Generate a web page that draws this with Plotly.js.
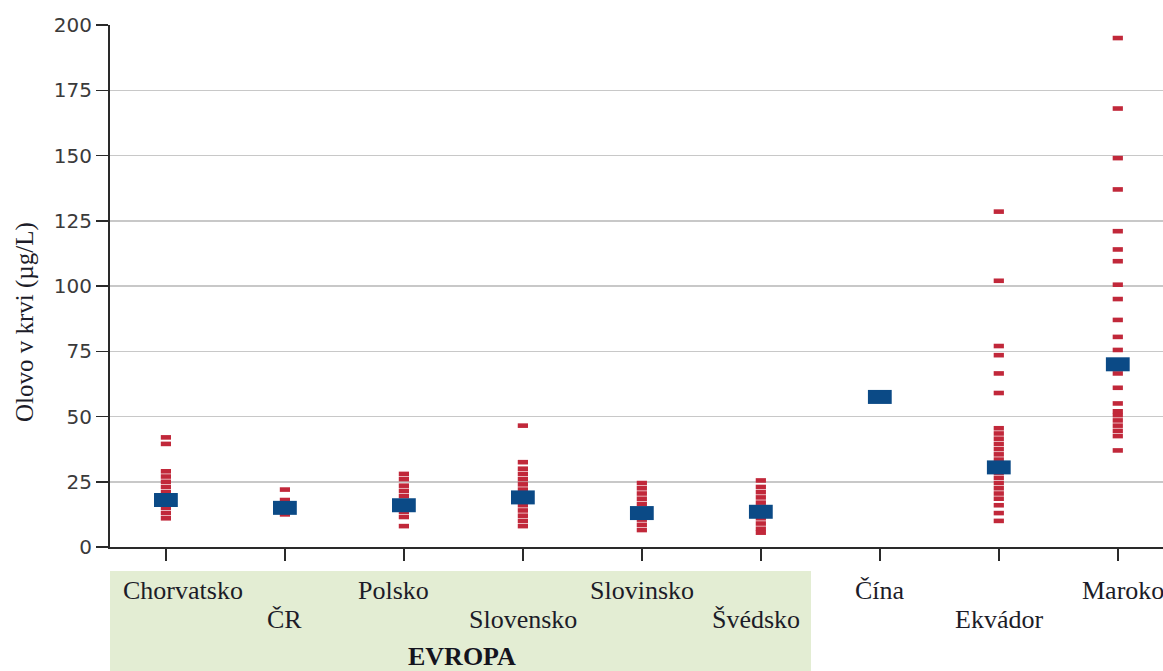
<!DOCTYPE html>
<html>
<head>
<meta charset="utf-8">
<script src="https://cdn.plot.ly/plotly-3.0.1.min.js"></script>
<style>html,body{margin:0;padding:0;background:#fff;}#chart{width:1163px;height:671px;}</style>
</head>
<body>
<div id="chart"></div>
<script>
// ---- data ----
const categories = ['Chorvatsko', 'ČR', 'Polsko', 'Slovensko', 'Slovinsko', 'Švédsko', 'Čína', 'Ekvádor', 'Maroko'];
const groupLabel = 'EVROPA';
const yTitle = 'Olovo v krvi (µg/L)';
const yTickVals = [0, 25, 50, 75, 100, 125, 150, 175, 200];

const chorvatsko = [42, 39.5, 29, 27, 25, 23, 21, 19, 17, 15, 13, 11];
const cr = [22, 18, 16, 14, 12.5];
const polsko = [28, 26, 23.5, 21.5, 19.5, 17.5, 15.5, 13.5, 11.5, 8];
const slovensko = [46.5, 32.5, 30, 28, 26, 24, 22, 20, 18, 16, 14, 12, 10, 8];
const slovinsko = [24.5, 22.5, 20.5, 18.5, 16.5, 14.5, 12.5, 10.5, 8.5, 6.5];
const svedsko = [25.5, 23, 21, 19, 17, 15, 13, 11, 9, 7, 5.5];
const cina = [];
const ekvador = [128.5, 102, 77, 73.5, 66.5, 59, 45.5, 43.5, 41.5, 39.5, 37.5, 35.5, 33.5, 31.5, 28.5, 26.5, 24.5, 22.5, 20.5, 18.5, 16, 13, 10];
const maroko = [195, 168, 149, 137, 121, 114, 109.5, 100.5, 95, 87, 80.5, 75.5, 66.5, 61, 55, 52, 50.5, 48.5, 46.5, 44.5, 42.5, 37];

const medians = [18, 15, 16, 19, 13, 13.5, 57.5, 30.5, 70];

// ---- build ----
const individual = [chorvatsko, cr, polsko, slovensko, slovinsko, svedsko, cina, ekvador, maroko];
const redX = [], redY = [];
individual.forEach((arr, i) => arr.forEach(v => { redX.push(categories[i]); redY.push(v); }));

const RED = '#c1283a';
const BLUE = '#0b4a86';

const traces = [
  {
    type: 'scatter', mode: 'markers', x: redX, y: redY, hoverinfo: 'x+y',
    marker: { symbol: 'line-ew', size: 7.3, color: RED, line: { width: 4.6, color: RED } },
    cliponaxis: false, showlegend: false
  },
  {
    type: 'scatter', mode: 'markers', x: categories, y: medians, hoverinfo: 'x+y',
    marker: { symbol: 'line-ew', size: 17, color: BLUE, line: { width: 14, color: BLUE } },
    cliponaxis: false, showlegend: false
  }
];

const serif = '"Liberation Serif", "Times New Roman", serif';
const xShift = [17, 0, -10, 0, 0, -5, 0, 0, 5];
const annotations = categories.map((c, i) => ({
  xref: 'x', yref: 'paper', x: i, y: 0, xanchor: 'center', yanchor: 'middle',
  yshift: (i % 2 === 0) ? -43 : -72, xshift: xShift[i],
  text: c, showarrow: false, font: { family: serif, size: 26, color: '#1c1c28' }
}));
annotations.push({
  xref: 'x', yref: 'paper', x: 2.49, y: 0, xanchor: 'center', yanchor: 'middle', yshift: -109,
  text: '<b>' + groupLabel + '</b>', showarrow: false, font: { family: serif, size: 26, color: '#14141e' }
});
annotations.push({
  xref: 'paper', yref: 'paper', x: -0.0807, y: 0.431, xanchor: 'center', yanchor: 'middle',
  textangle: -90, text: yTitle, showarrow: false, font: { family: serif, size: 25, color: '#1c1c28' }
});

const layout = {
  width: 1163, height: 671,
  margin: { l: 110, r: 0, t: 25, b: 124, pad: 0 },
  paper_bgcolor: '#ffffff', plot_bgcolor: 'rgba(0,0,0,0)',
  showlegend: false,
  xaxis: {
    type: 'category', categoryorder: 'array', categoryarray: categories,
    range: [-0.47, 8.38], showgrid: false, zeroline: false,
    showline: true, linecolor: '#2a2a2a', linewidth: 2,
    ticks: 'outside', ticklen: 12, tickwidth: 1.5, tickcolor: '#2a2a2a',
    showticklabels: false, fixedrange: true
  },
  yaxis: {
    range: [0, 200], tickmode: 'array', tickvals: yTickVals,
    showgrid: true, gridcolor: '#c8c8c8', gridwidth: 1.5, zeroline: false,
    showline: true, linecolor: '#2a2a2a', linewidth: 2,
    ticks: 'outside', ticklen: 12, tickwidth: 1.5, tickcolor: '#2a2a2a',
    tickfont: { family: '"DejaVu Sans", "Liberation Sans", sans-serif', size: 20, color: '#3a3a3a' },
    fixedrange: true
  },
  shapes: [{
    type: 'rect', xref: 'paper', yref: 'paper', layer: 'below',
    x0: 0, x1: 0.6657, y0: -0.046, y1: -0.4,
    fillcolor: '#e3edd3', line: { width: 0 }
  }],
  annotations: annotations
};

Plotly.newPlot('chart', traces, layout, { displayModeBar: false, staticPlot: true });
</script>
</body>
</html>
